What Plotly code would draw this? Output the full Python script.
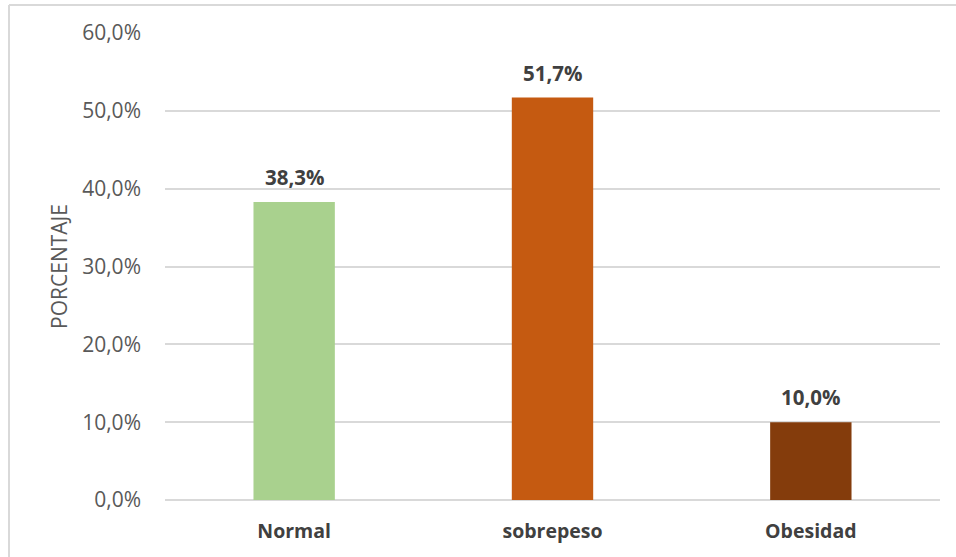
import plotly.graph_objects as go

categorias = ["Normal", "sobrepeso", "Obesidad"]
porcentajes = [38.3, 51.7, 10.0]
colores = ["#A9D18E", "#C55A11", "#843C0C"]
y_ticks = [0, 10, 20, 30, 40, 50, 60]
y_tick_text = [f"{v:.1f}%".replace(".", ",") for v in y_ticks]

W, H = 956, 557
ML, MR, MT, MB = 165, 16, 33, 57
pw, ph = W - ML - MR, H - MT - MB
FONT = "Open Sans"

fig = go.Figure()
fig.add_trace(go.Bar(
    x=categorias,
    y=porcentajes,
    marker=dict(color=colores, line=dict(width=0)),
    width=0.315,
    showlegend=False,
    hoverinfo="skip",
))

# value labels above each bar
for c, v in zip(categorias, porcentajes):
    fig.add_annotation(
        x=c, y=v, text=f"<b>{v:.1f}%</b>".replace(".", ","),
        showarrow=False, yanchor="bottom", yshift=9,
        font=dict(family=FONT, size=20.5, color="#404040"),
    )

# chart frame (left and top edges)
fx = (9 - ML) / pw
fy = 1 + (MT - 5) / ph
fig.add_shape(type="line", xref="paper", yref="paper", x0=fx, x1=fx, y0=fy, y1=-0.2,
              line=dict(color="#D9D9D9", width=2))
fig.add_shape(type="line", xref="paper", yref="paper", x0=fx, x1=1.1, y0=fy, y1=fy,
              line=dict(color="#D9D9D9", width=2))

fig.update_layout(
    width=W, height=H,
    margin=dict(l=ML, r=MR, t=MT, b=MB),
    paper_bgcolor="white", plot_bgcolor="white",
    yaxis=dict(
        range=[0, 60], tickvals=y_ticks, ticktext=y_tick_text,
        showgrid=True, gridcolor="#D9D9D9", gridwidth=1.5,
        zeroline=True, zerolinecolor="#D9D9D9", zerolinewidth=1.5,
        showline=False, ticks="", ticklabelstandoff=23,
        tickfont=dict(family=FONT, size=21, color="#595959"),
        title=dict(text="PORCENTAJE", standoff=8,
                   font=dict(family=FONT, size=21, color="#595959")),
    ),
    xaxis=dict(
        showgrid=False, showline=False, ticks="", ticklabelstandoff=17,
        tickfont=dict(family=FONT, size=19.5, color="#404040", weight="bold"),
    ),
)

fig.write_html("out.html")
